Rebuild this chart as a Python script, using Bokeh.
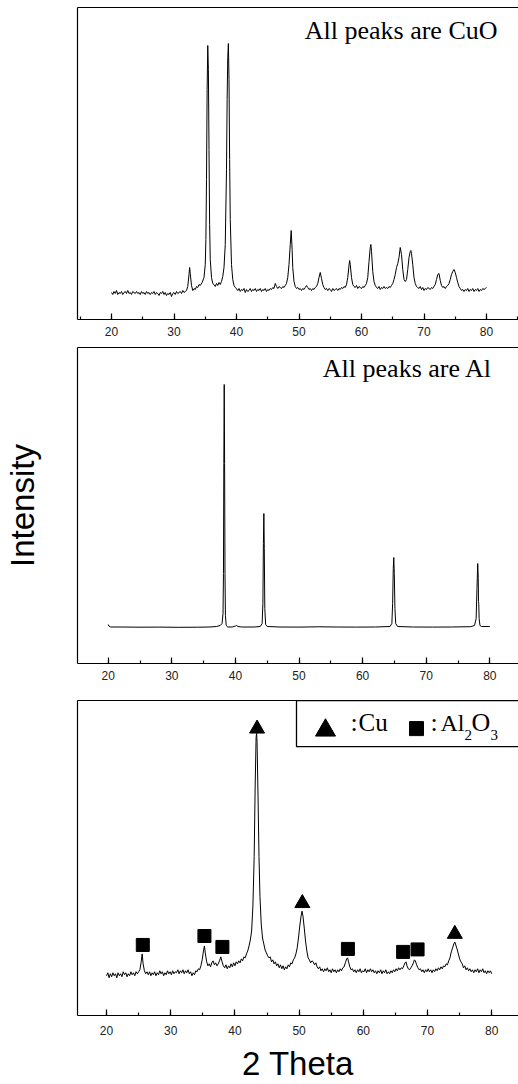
from bokeh.plotting import figure
from bokeh.models import Label, LinearAxis, FixedTicker, SingleIntervalTicker, Range1d
from bokeh.layouts import column
from bokeh.embed import file_html
from bokeh.resources import INLINE

# ---------------- data (2 theta, intensity a.u.) ----------------
cuo_pts = [
    (20.0, 27), (20.2, 25), (20.4, 28), (20.6, 26), (20.8, 29), (21.0, 25), (21.2, 27), (21.4, 26), (21.6, 28), (21.8, 25),
    (22.0, 27), (22.2, 28), (22.4, 26), (22.6, 29), (22.8, 26), (23.0, 27), (23.2, 25), (23.4, 28), (23.6, 27), (23.8, 26),
    (24.0, 28), (24.2, 26), (24.4, 27), (24.6, 25), (24.8, 28), (25.0, 26), (25.2, 27), (25.4, 25), (25.6, 28), (25.8, 26),
    (26.0, 27), (26.2, 25), (26.4, 27), (26.6, 26), (26.8, 28), (27.0, 25), (27.2, 27), (27.4, 26), (27.6, 24), (27.8, 27),
    (28.0, 26), (28.2, 28), (28.4, 25), (28.6, 27), (28.8, 24), (29.0, 26), (29.2, 25), (29.4, 27), (29.6, 23), (29.8, 26),
    (30.0, 27), (30.2, 25), (30.4, 28), (30.6, 26), (30.8, 27), (31.0, 28), (31.2, 26), (31.4, 29), (31.6, 27), (31.8, 28),
    (32.0, 29), (32.2, 33), (32.4, 45), (32.5, 52), (32.6, 46), (32.8, 34), (33.0, 29), (33.2, 31), (33.4, 30), (33.6, 33),
    (33.8, 32), (34.0, 35), (34.2, 34), (34.5, 37), (34.8, 42), (35.0, 55), (35.1, 80), (35.2, 140), (35.3, 230), (35.4, 274),
    (35.5, 250), (35.6, 170), (35.7, 95), (35.8, 60), (36.0, 42), (36.2, 36), (36.4, 35), (36.6, 33), (36.8, 36), (37.0, 34),
    (37.2, 37), (37.4, 35), (37.6, 38), (37.8, 43), (38.0, 52), (38.2, 75), (38.4, 150), (38.5, 220), (38.6, 262), (38.7, 276),
    (38.8, 240), (38.9, 160), (39.0, 100), (39.2, 55), (39.4, 40), (39.6, 34), (39.8, 32), (40.0, 31), (40.2, 29), (40.4, 31),
    (40.6, 28), (40.8, 30), (41.0, 29), (41.2, 31), (41.4, 27), (41.6, 30), (41.8, 28), (42.0, 29), (42.2, 31), (42.4, 28),
    (42.6, 30), (42.8, 29), (43.0, 31), (43.2, 28), (43.4, 30), (43.6, 29), (43.8, 31), (44.0, 28), (44.2, 30), (44.4, 29),
    (44.6, 31), (44.8, 28), (45.0, 30), (45.2, 29), (45.4, 31), (45.6, 30), (45.8, 32), (46.0, 31), (46.2, 36), (46.4, 33),
    (46.6, 31), (46.8, 33), (47.0, 32), (47.2, 31), (47.4, 33), (47.6, 32), (47.8, 34), (48.0, 36), (48.2, 42), (48.4, 55),
    (48.6, 75), (48.75, 89), (48.9, 70), (49.0, 52), (49.2, 38), (49.4, 33), (49.6, 31), (49.8, 32), (50.0, 30), (50.2, 31),
    (50.4, 29), (50.6, 31), (50.8, 30), (51.0, 32), (51.2, 34), (51.4, 32), (51.6, 30), (51.8, 31), (52.0, 29), (52.2, 31),
    (52.4, 30), (52.6, 32), (52.8, 33), (53.0, 36), (53.2, 42), (53.4, 47), (53.6, 41), (53.8, 35), (54.0, 32), (54.2, 30),
    (54.4, 31), (54.6, 29), (54.8, 31), (55.0, 30), (55.2, 28), (55.4, 31), (55.6, 29), (55.8, 30), (56.0, 31), (56.2, 29),
    (56.4, 31), (56.6, 30), (56.8, 32), (57.0, 31), (57.2, 33), (57.4, 32), (57.6, 35), (57.8, 42), (58.0, 54), (58.1, 59),
    (58.2, 55), (58.4, 42), (58.6, 35), (58.8, 33), (59.0, 32), (59.2, 34), (59.4, 31), (59.6, 33), (59.8, 32), (60.0, 31),
    (60.2, 33), (60.4, 32), (60.6, 34), (60.8, 36), (61.0, 42), (61.2, 58), (61.4, 72), (61.5, 75), (61.6, 68), (61.8, 48),
    (62.0, 38), (62.2, 34), (62.4, 32), (62.6, 31), (62.8, 33), (63.0, 30), (63.2, 32), (63.4, 31), (63.6, 33), (63.8, 31),
    (64.0, 32), (64.2, 31), (64.4, 33), (64.6, 32), (64.8, 34), (65.0, 36), (65.2, 40), (65.4, 45), (65.6, 52), (65.8, 56),
    (66.0, 62), (66.2, 72), (66.4, 65), (66.6, 50), (66.8, 40), (67.0, 38), (67.2, 40), (67.4, 50), (67.6, 62), (67.8, 68),
    (67.9, 69), (68.0, 66), (68.2, 55), (68.4, 42), (68.6, 36), (68.8, 33), (69.0, 32), (69.2, 31), (69.4, 33), (69.6, 30),
    (69.8, 32), (70.0, 29), (70.2, 31), (70.4, 30), (70.6, 32), (70.8, 31), (71.0, 30), (71.2, 32), (71.4, 31), (71.6, 33),
    (71.8, 35), (72.0, 40), (72.2, 45), (72.4, 46), (72.6, 39), (72.8, 34), (73.0, 32), (73.2, 33), (73.4, 31), (73.6, 33),
    (73.8, 34), (74.0, 36), (74.2, 40), (74.4, 45), (74.6, 48), (74.8, 50), (75.0, 47), (75.2, 42), (75.4, 37), (75.6, 33),
    (75.8, 31), (76.0, 29), (76.2, 30), (76.4, 28), (76.6, 30), (76.8, 29), (77.0, 31), (77.2, 28), (77.4, 30), (77.6, 29),
    (77.8, 31), (78.0, 28), (78.2, 30), (78.4, 29), (78.6, 31), (78.8, 28), (79.0, 30), (79.2, 29), (79.4, 31), (79.6, 30),
    (79.8, 31), (80.0, 32),
]

al_pts = [
    (20.0, 39), (20.1, 37.5), (20.4, 36.5), (22.0, 36.5), (25.0, 36.3), (28.0, 36.4), (31.0, 36.2), (34.0, 36.3),
    (36.0, 36.5), (37.0, 37), (37.6, 38), (37.9, 40), (38.05, 50), (38.12, 90), (38.18, 200), (38.24, 279),
    (38.3, 200), (38.36, 90), (38.43, 48), (38.55, 38), (38.8, 36.5), (39.5, 36.5), (40.0, 37.5), (40.2, 38),
    (40.4, 37), (41.0, 36.5), (43.0, 36.5), (43.9, 37), (44.2, 40), (44.32, 60), (44.4, 120), (44.47, 150),
    (44.54, 115), (44.62, 55), (44.75, 39), (45.0, 37), (47.0, 36.5), (50.0, 36.4), (53.0, 36.7), (56.0, 36.5),
    (59.0, 36.4), (62.0, 36.5), (64.3, 37), (64.6, 40), (64.72, 60), (64.82, 95), (64.9, 106), (64.98, 90),
    (65.08, 55), (65.2, 40), (65.5, 37), (68.0, 36.5), (71.0, 36.4), (74.0, 36.5), (77.0, 36.8), (77.6, 38),
    (77.85, 45), (77.98, 75), (78.1, 100), (78.18, 85), (78.22, 62), (78.26, 60), (78.32, 45), (78.45, 38),
    (78.7, 37), (80.0, 37),
]

mix_pts = [
    (20.0, 40), (20.2, 43), (20.4, 38), (20.6, 42), (20.8, 39), (21.0, 43), (21.2, 40), (21.4, 42), (21.6, 38), (21.8, 43),
    (22.0, 40), (22.2, 42), (22.4, 39), (22.6, 44), (22.8, 41), (23.0, 43), (23.2, 39), (23.4, 42), (23.6, 40), (23.8, 44),
    (24.0, 41), (24.2, 43), (24.4, 40), (24.6, 44), (24.8, 42), (25.0, 44), (25.2, 46), (25.4, 54), (25.55, 62), (25.7, 52),
    (25.9, 45), (26.1, 42), (26.3, 44), (26.5, 41), (26.7, 44), (26.9, 40), (27.1, 43), (27.3, 41), (27.5, 44), (27.7, 40),
    (27.9, 43), (28.1, 41), (28.3, 45), (28.5, 42), (28.7, 44), (28.9, 40), (29.1, 43), (29.3, 41), (29.5, 45), (29.7, 42),
    (29.9, 44), (30.1, 41), (30.3, 45), (30.5, 42), (30.7, 44), (30.9, 43), (31.1, 46), (31.3, 42), (31.5, 45), (31.7, 43),
    (31.9, 46), (32.1, 42), (32.3, 45), (32.5, 43), (32.7, 46), (32.9, 42), (33.1, 44), (33.3, 40), (33.5, 43), (33.7, 41),
    (33.9, 45), (34.1, 44), (34.3, 47), (34.5, 46), (34.7, 50), (34.9, 56), (35.1, 65), (35.25, 70), (35.4, 62), (35.6, 54),
    (35.8, 50), (36.0, 52), (36.2, 49), (36.4, 53), (36.6, 55), (36.8, 51), (37.0, 53), (37.2, 50), (37.4, 52), (37.6, 55),
    (37.8, 59), (38.0, 54), (38.2, 50), (38.4, 48), (38.6, 51), (38.8, 47), (39.0, 50), (39.2, 48), (39.4, 52), (39.6, 49),
    (39.8, 53), (40.0, 50), (40.2, 54), (40.4, 52), (40.6, 55), (40.8, 53), (41.0, 57), (41.2, 55), (41.4, 59), (41.6, 58),
    (41.8, 62), (42.0, 65), (42.2, 70), (42.4, 76), (42.6, 85), (42.8, 110), (43.0, 160), (43.15, 230), (43.3, 280), (43.38, 284),
    (43.45, 275), (43.6, 220), (43.75, 160), (43.9, 120), (44.1, 92), (44.3, 78), (44.5, 72), (44.7, 66), (44.9, 63), (45.1, 60),
    (45.3, 58), (45.5, 59), (45.7, 54), (45.9, 56), (46.1, 52), (46.3, 54), (46.5, 50), (46.7, 52), (46.9, 48), (47.1, 51),
    (47.3, 47), (47.5, 50), (47.7, 46), (47.9, 49), (48.1, 47), (48.3, 51), (48.5, 49), (48.7, 53), (48.9, 52), (49.1, 56),
    (49.3, 58), (49.5, 62), (49.7, 68), (49.9, 78), (50.1, 90), (50.3, 100), (50.45, 105), (50.6, 100), (50.8, 88), (51.0, 75),
    (51.2, 65), (51.4, 58), (51.6, 56), (51.8, 53), (52.0, 55), (52.2, 54), (52.4, 51), (52.6, 53), (52.8, 49), (53.0, 47),
    (53.2, 49), (53.4, 45), (53.6, 47), (53.8, 44), (54.0, 47), (54.2, 45), (54.4, 48), (54.6, 44), (54.8, 46), (55.0, 43),
    (55.2, 47), (55.4, 44), (55.6, 46), (55.8, 43), (56.0, 46), (56.2, 44), (56.4, 47), (56.6, 45), (56.8, 48), (57.0, 49),
    (57.2, 53), (57.4, 57), (57.55, 58), (57.7, 54), (57.9, 49), (58.1, 46), (58.3, 47), (58.5, 44), (58.7, 46), (58.9, 43),
    (59.1, 46), (59.3, 44), (59.5, 47), (59.7, 43), (59.9, 45), (60.1, 44), (60.3, 47), (60.5, 43), (60.7, 46), (60.9, 44),
    (61.1, 47), (61.3, 44), (61.5, 46), (61.7, 43), (61.9, 45), (62.1, 42), (62.3, 45), (62.5, 43), (62.7, 46), (62.9, 42),
    (63.1, 45), (63.3, 43), (63.5, 46), (63.7, 42), (63.9, 44), (64.1, 42), (64.3, 45), (64.5, 43), (64.7, 46), (64.9, 44),
    (65.1, 47), (65.3, 45), (65.5, 48), (65.7, 46), (65.9, 48), (66.1, 47), (66.3, 50), (66.5, 53), (66.65, 54), (66.8, 50),
    (67.0, 47), (67.2, 46), (67.4, 48), (67.6, 50), (67.8, 53), (67.95, 56), (68.1, 55), (68.3, 51), (68.5, 48), (68.7, 46),
    (68.9, 47), (69.1, 44), (69.3, 46), (69.5, 43), (69.7, 46), (69.9, 44), (70.1, 47), (70.3, 44), (70.5, 46), (70.7, 43),
    (70.9, 46), (71.1, 44), (71.3, 47), (71.5, 45), (71.7, 48), (71.9, 46), (72.1, 49), (72.3, 47), (72.5, 50), (72.7, 49),
    (72.9, 52), (73.1, 51), (73.3, 55), (73.5, 58), (73.7, 64), (73.9, 68), (74.1, 72), (74.25, 74), (74.4, 71), (74.6, 67),
    (74.8, 62), (75.0, 57), (75.2, 54), (75.4, 52), (75.6, 48), (75.8, 50), (76.0, 46), (76.2, 48), (76.4, 45), (76.6, 47),
    (76.8, 44), (77.0, 46), (77.2, 43), (77.4, 46), (77.6, 44), (77.8, 47), (78.0, 43), (78.2, 46), (78.4, 44), (78.6, 47),
    (78.8, 43), (79.0, 45), (79.2, 42), (79.4, 45), (79.6, 43), (79.8, 45), (80.0, 42),
]

cu_peak_x = [43.45, 50.5, 74.25]
cu_peak_y = [288.6, 113, 82]
al2o3_peak_x = [25.65, 35.25, 38.05, 57.6, 66.2, 68.45]
al2o3_peak_y = [71, 80, 69, 67, 64, 66.5]

cuo_x = [p[0] for p in cuo_pts]
cuo_y = [p[1] for p in cuo_pts]
al_x = [p[0] for p in al_pts]
al_y = [p[1] for p in al_pts]
mix_x = [p[0] for p in mix_pts]
mix_y = [p[1] for p in mix_pts]

SANS = "Liberation Sans"
SERIF = "Liberation Serif"
LEFT = 77


def make_fig(height, top, bottom, xr, yr, standoff):
    p = figure(width=518, height=height, x_range=Range1d(*xr), y_range=Range1d(*yr),
               output_backend="svg", toolbar_location=None,
               min_border=0, min_border_left=LEFT, min_border_top=top,
               min_border_bottom=bottom, min_border_right=0)
    p.outline_line_color = None
    p.grid.visible = False
    p.background_fill_color = "white"
    p.border_fill_color = "white"
    ya = p.left[0]
    ya.ticker = FixedTicker(ticks=[])
    ya.axis_line_width = 1.2
    ya.axis_line_color = "black"
    ya.major_tick_out = 0
    ya.minor_tick_out = 0
    xa = p.below[0]
    xa.ticker = SingleIntervalTicker(interval=10, num_minor_ticks=2)
    xa.axis_line_width = 1.2
    xa.axis_line_color = "black"
    xa.major_tick_in = 6
    xa.major_tick_out = 0
    xa.minor_tick_in = 3
    xa.minor_tick_out = 0
    xa.major_tick_line_color = "black"
    xa.minor_tick_line_color = "black"
    xa.major_tick_line_width = 1.2
    xa.minor_tick_line_width = 1.2
    xa.major_label_text_font = SANS
    xa.major_label_text_font_size = "12px"
    xa.major_label_text_color = "#222222"
    xa.major_label_standoff = standoff
    top_axis = LinearAxis(ticker=FixedTicker(ticks=[]), axis_line_width=1.2, axis_line_color="black",
                          major_tick_out=0, minor_tick_out=0)
    p.add_layout(top_axis, "above")
    return p, xa, ya


def put_text(p, text, sx, baseline_from_bottom, size, align="left", font=SERIF):
    # baseline offset compensates the renderer's text box placement
    p.add_layout(Label(x=sx - LEFT, y=baseline_from_bottom + 0.35 * size, x_units="screen", y_units="screen",
                       text=text, text_font=font, text_font_size=f"{size}px", text_align=align,
                       text_baseline="alphabetic", text_color="black"))


# Panel 1: CuO
p1, _, _ = make_fig(340, 7, 21, (14.56, 85.12), (0, 312), 7)
p1.line(cuo_x, cuo_y, line_color="black", line_width=1)
put_text(p1, "All peaks are CuO", 497, 319 - 39, 26, align="right")

# Panel 2: Al
p2, _, ya2 = make_fig(350, 7, 27, (15.17, 84.51), (0, 316), 7)
p2.line(al_x, al_y, line_color="black", line_width=1)
put_text(p2, "All peaks are Al", 492, 663 - 377, 26, align="right")
ya2.axis_label = "Intensity"
ya2.axis_label_text_font = SANS
ya2.axis_label_text_font_size = "33px"
ya2.axis_label_text_font_style = "normal"
ya2.axis_label_text_color = "black"
ya2.axis_label_standoff = 37

# Panel 3: milled mixture
X3 = (15.48, 84.17)
W3 = 518 - LEFT
p3, xa3, _ = make_fig(394, 10, 67, X3, (0, 317), 10)
xa3.axis_label = "2 Theta"
xa3.axis_label_text_font = SANS
xa3.axis_label_text_font_size = "33px"
xa3.axis_label_text_font_style = "normal"
xa3.axis_label_text_color = "black"
xa3.axis_label_standoff = 7


def x3(px):
    return X3[0] + (px - LEFT) * (X3[1] - X3[0]) / W3


p3.line(mix_x, mix_y, line_color="black", line_width=1)
p3.scatter(cu_peak_x, cu_peak_y, marker="triangle", size=15, color="black")
p3.scatter(al2o3_peak_x, al2o3_peak_y, marker="square", size=13, color="black")

# legend box and its keys
p3.quad(left=[x3(296)], right=[x3(600)], top=[317], bottom=[270.5],
        fill_color="white", line_color="black", line_width=1.3)
p3.scatter([x3(325)], [287], marker="triangle", size=20, color="black")
p3.scatter([x3(416)], [288.7], marker="square", size=14, color="black")
B3 = 1017
put_text(p3, ":", 350, B3 - 733, 26)
put_text(p3, "Cu", 358, B3 - 733, 25)
put_text(p3, ":", 430, B3 - 733, 26)
put_text(p3, "Al", 440, B3 - 733, 24)
put_text(p3, "2", 464, B3 - 741.5, 15)
put_text(p3, "O", 471, B3 - 733, 26)
put_text(p3, "3", 490, B3 - 741.5, 15)

layout = column(p1, p2, p3, spacing=0)
open("out.html", "w").write(file_html(layout, INLINE))
